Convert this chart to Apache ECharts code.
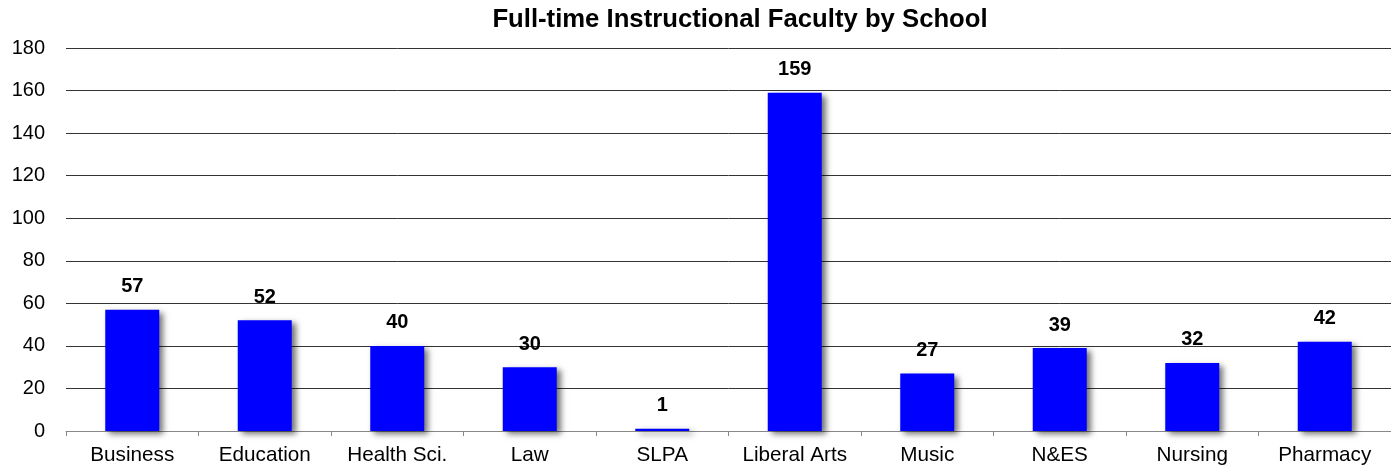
<!DOCTYPE html>
<html>
<head>
<meta charset="utf-8">
<script src="https://cdn.jsdelivr.net/npm/echarts@6/dist/echarts.min.js"></script>
<style>
html,body{margin:0;padding:0;background:#fff;}
#chart{width:1391px;height:469px;}
</style>
</head>
<body>
<div id="chart"></div>
<script>
var categories = ['Business','Education','Health Sci.','Law','SLPA','Liberal Arts','Music','N&ES','Nursing','Pharmacy'];
var faculty = [57,52,40,30,1,159,27,39,32,42];
var titleText = 'Full-time Instructional Faculty by School';

var FONT = 'Liberation Sans, Arial, sans-serif';
var chart = echarts.init(document.getElementById('chart'));
chart.setOption({
  animation: false,
  backgroundColor: '#fff',
  title: {
    text: titleText,
    left: 740, top: 7, textAlign: 'center', padding: 0,
    textStyle: {fontFamily: FONT, fontSize: 25.7, fontWeight: 'bold', color: '#000'}
  },
  grid: {left: 66, right: -15, top: 48, bottom: 38, containLabel: false},
  xAxis: {
    type: 'category',
    data: categories,
    axisLine: {show: true, lineStyle: {color: '#888', width: 1}},
    axisTick: {show: true, alignWithLabel: false, length: 5, lineStyle: {color: '#888'}},
    axisLabel: {fontFamily: FONT, fontSize: 20.7, color: '#000', margin: 14, interval: 0}
  },
  yAxis: {
    type: 'value',
    min: 0, max: 180, interval: 20,
    axisLine: {show: false},
    axisTick: {show: false},
    axisLabel: {fontFamily: FONT, fontSize: 20, color: '#000', margin: 21},
    splitLine: {show: true, lineStyle: {color: '#333', width: 1}}
  },
  series: [{
    type: 'bar',
    data: faculty,
    barWidth: 54,
    itemStyle: {
      color: '#0000FF',
      shadowColor: 'rgba(0,0,0,0.55)',
      shadowBlur: 6,
      shadowOffsetX: 4,
      shadowOffsetY: 3
    },
    label: {
      show: true, position: 'top', distance: 13,
      fontFamily: FONT, fontSize: 20, fontWeight: 'bold', color: '#000'
    }
  }]
});
</script>
</body>
</html>
